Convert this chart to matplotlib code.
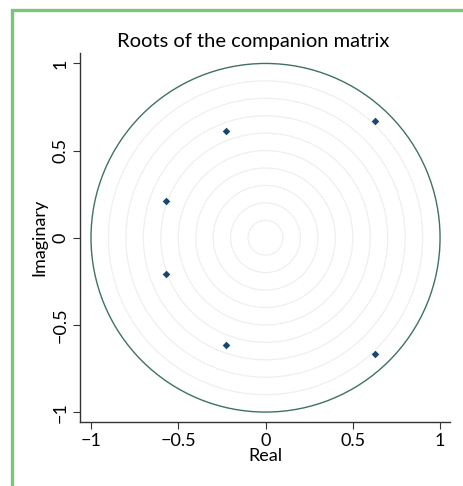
import numpy as np
import matplotlib.pyplot as plt
from matplotlib.patches import Circle, Rectangle

# Eigenvalues (roots)
real_part = [0.625, 0.625, -0.225, -0.225, -0.57, -0.57]
imag_part = [0.668, -0.668, 0.615, -0.615, 0.21, -0.21]

grid_radii = [0.1, 0.2, 0.3, 0.4, 0.5, 0.6, 0.7, 0.8, 0.9]
ticks = [-1, -0.5, 0, 0.5, 1]
tick_labels = ["\u22121", "\u22120.5", "0", "0.5", "1"]

plt.rcParams['font.family'] = ['Lato', 'DejaVu Sans']

W, H = 463, 486
fig = plt.figure(figsize=(W / 100, H / 100), dpi=100)

# green frame (cut off at right and bottom)
fig.patches.append(Rectangle((11.5 / W, -0.1), 1.2, 1 - 9.5 / H + 0.1, transform=fig.transFigure,
                             fill=False, edgecolor="#78c67c", linewidth=2.4))

ax = fig.add_axes([80 / W, 1 - 422 / H, 370 / W, 369 / H])
ax.set_xlim(-1.063, 1.057)
ax.set_ylim(-1.057, 1.06)

for r in grid_radii:
    ax.add_patch(Circle((0, 0), r, fill=False, edgecolor="#efefef", linewidth=0.9))
ax.add_patch(Circle((0, 0), 1, fill=False, edgecolor="#3f7166", linewidth=1.0))

ax.scatter(real_part, imag_part, marker="D", s=15, color="#1a476f", zorder=3, linewidths=0)

ax.spines["top"].set_visible(False)
ax.spines["right"].set_visible(False)
for s in ["left", "bottom"]:
    ax.spines[s].set_color("#333333")
    ax.spines[s].set_linewidth(1.0)

ax.set_xticks(ticks)
ax.set_xticklabels(tick_labels)
ax.set_yticks(ticks)
ax.set_yticklabels(tick_labels, rotation=90, va="center")
ax.tick_params(direction="out", length=5, width=0.8, color="#333333", labelsize=13, pad=3)

ax.set_xlabel("Real", fontsize=13, labelpad=-1)
ax.set_ylabel("Imaginary", fontsize=13, va="center")
ax.yaxis.set_label_coords(-41 / 370, 0.5)

fig.text(253 / W, 1 - 42 / H, "Roots of the companion matrix", ha="center", va="center", fontsize=14.5)

fig.savefig("out.png", dpi=100)
